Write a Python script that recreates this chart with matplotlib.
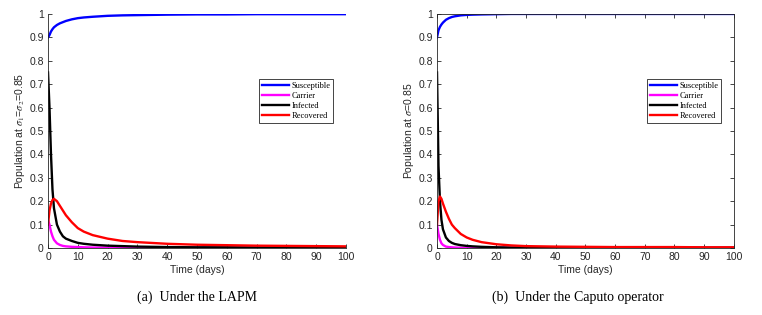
import matplotlib
matplotlib.use("Agg")
import matplotlib.pyplot as plt

# time points (days)
t = [0, 0.5, 1, 1.5, 2, 3, 4, 5, 6, 8, 10, 12, 15, 20, 25, 30, 40, 50, 60, 70, 80, 90, 100]

# (a) LAPM
s_lapm = [0.90, 0.91, 0.925, 0.935, 0.943, 0.953, 0.96, 0.965, 0.97, 0.977, 0.982, 0.985,
          0.988, 0.992, 0.994, 0.995, 0.997, 0.998, 0.998, 0.999, 0.999, 0.999, 0.999]
c_lapm = [0.12, 0.10, 0.07, 0.05, 0.035, 0.02, 0.013, 0.009, 0.007, 0.005, 0.004, 0.003,
          0.002, 0.002, 0.001, 0.001, 0.001, 0.001, 0.001, 0.001, 0.001, 0.001, 0.001]
i_lapm = [0.75, 0.60, 0.40, 0.25, 0.17, 0.10, 0.07, 0.05, 0.04, 0.03, 0.022, 0.018,
          0.014, 0.010, 0.008, 0.006, 0.004, 0.003, 0.003, 0.002, 0.002, 0.002, 0.002]
r_lapm = [0.10, 0.16, 0.19, 0.205, 0.21, 0.20, 0.18, 0.16, 0.14, 0.11, 0.085, 0.07,
          0.055, 0.04, 0.03, 0.025, 0.018, 0.014, 0.012, 0.010, 0.009, 0.008, 0.007]

# (b) Caputo
s_cap = [0.90, 0.93, 0.945, 0.955, 0.963, 0.975, 0.982, 0.987, 0.99, 0.994, 0.996, 0.997,
         0.998, 0.999, 1.0, 1.0, 1.0, 1.0, 1.0, 1.0, 1.0, 1.0, 1.0]
c_cap = [0.10, 0.06, 0.035, 0.02, 0.013, 0.006, 0.004, 0.003, 0.002, 0.001, 0.001, 0.001,
         0.001, 0.001, 0.001, 0.001, 0.001, 0.001, 0.001, 0.001, 0.001, 0.001, 0.001]
i_cap = [0.75, 0.35, 0.20, 0.12, 0.08, 0.045, 0.03, 0.022, 0.017, 0.012, 0.009, 0.007,
         0.005, 0.003, 0.002, 0.002, 0.001, 0.001, 0.001, 0.001, 0.001, 0.001, 0.001]
r_cap = [0.10, 0.20, 0.22, 0.21, 0.19, 0.155, 0.125, 0.10, 0.085, 0.06, 0.045, 0.035,
         0.025, 0.016, 0.011, 0.008, 0.006, 0.005, 0.004, 0.004, 0.004, 0.003, 0.003]

names = ["Susceptible", "Carrier", "Infected", "Recovered"]
colors = ["#0000ff", "#ff00ff", "#000000", "#ff0000"]
ylabels = [r"Population at $\sigma$$_1$=$\sigma$$_2$=0.85", r"Population at $\sigma$=0.85"]
captions = ["(a)  Under the LAPM", "(b)  Under the Caputo operator"]

plt.rcParams["font.family"] = ["Liberation Sans", "DejaVu Sans"]
plt.rcParams["mathtext.fontset"] = "stix"
axcol = "#262626"

fig = plt.figure(figsize=(7.62, 3.15), dpi=100)
ax1 = fig.add_axes([0.063, 0.2127, 0.391, 0.743])
ax2 = fig.add_axes([0.5735, 0.2127, 0.3895, 0.743])

panels = [(ax1, [s_lapm, c_lapm, i_lapm, r_lapm], False),
          (ax2, [s_cap, c_cap, i_cap, r_cap], True)]

for k, (ax, series, box) in enumerate(panels):
    for y, n, c in zip(series, names, colors):
        ax.plot(t, y, color=c, lw=1.7, label=n)
    ax.set_xlim(0, 100)
    ax.set_ylim(0, 1)
    ax.set_xticks(range(0, 101, 10))
    ax.set_yticks([i / 10 for i in range(11)])
    ax.set_yticklabels(["0", "0.1", "0.2", "0.3", "0.4", "0.5", "0.6", "0.7", "0.8", "0.9", "1"])
    ax.tick_params(direction="in", length=3, width=0.6, labelsize=7.5, colors=axcol,
                   top=box, right=box, pad=3)
    for sp in ax.spines.values():
        sp.set_color(axcol)
        sp.set_linewidth(0.6)
    if not box:
        ax.spines["top"].set_visible(False)
        ax.spines["right"].set_visible(False)
    ax.set_xlabel("Time (days)", fontsize=7.5, color=axcol, labelpad=2)
    ax.set_ylabel(ylabels[k], fontsize=7.5, color=axcol, labelpad=2)
    leg = ax.legend(loc="upper right", bbox_to_anchor=(0.958, 0.722), borderaxespad=0,
                    prop={"family": "Liberation Serif", "size": 6}, fancybox=False,
                    handlelength=3.2, handletextpad=0.3, labelspacing=0.25,
                    borderpad=0.35, framealpha=1)
    leg.get_frame().set_edgecolor(axcol)
    leg.get_frame().set_linewidth(0.6)

fig.text(0.259, 0.057, captions[0], ha="center", va="center",
         fontsize=10, family="Liberation Serif")
fig.text(0.758, 0.057, captions[1], ha="center", va="center",
         fontsize=10, family="Liberation Serif")

fig.savefig("out.png", dpi=100)
